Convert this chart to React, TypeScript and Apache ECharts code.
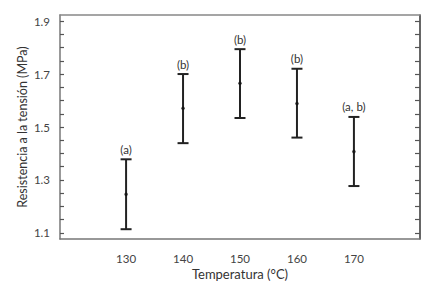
import React, { useEffect, useRef } from "react";
import * as echarts from "echarts";

const temperatures = [130, 140, 150, 160, 170];
const means = [1.246, 1.571, 1.665, 1.589, 1.407];
const lows = [1.114, 1.439, 1.534, 1.46, 1.277];
const highs = [1.378, 1.7, 1.794, 1.72, 1.538];
const groups = ["(a)", "(b)", "(b)", "(b)", "(a, b)"];
const xTickLabels = [130, 140, 150, 160, 170];
const yTickLabels = [1.1, 1.3, 1.5, 1.7, 1.9];
const yMinorTicks = [1.1, 1.15, 1.2, 1.25, 1.3, 1.35, 1.4, 1.45, 1.5, 1.55, 1.6, 1.65, 1.7, 1.75, 1.8, 1.85, 1.9];

const FONT = "Lato";

export default function App() {
  const ref = useRef<HTMLDivElement>(null);
  useEffect(() => {
    const chart = echarts.init(ref.current!, null, { renderer: "svg" });
    const errData = temperatures.map((t, i) => [t, lows[i], highs[i], groups[i]]);
    chart.setOption({
      animation: false,
      backgroundColor: "#fff",
      grid: { left: 60, right: 13, top: 15, bottom: 49 },
      xAxis: [
        {
          type: "value",
          min: 118.4,
          max: 181.6,
          position: "bottom",
          name: "Temperatura (°C)",
          nameLocation: "middle",
          nameGap: 28,
          nameMoveOverlap: false,
          nameTextStyle: { fontFamily: FONT, fontSize: 13, color: "#333" },
          axisLine: { show: true, lineStyle: { color: "#777", width: 1.5 } },
          axisTick: { show: false },
          splitLine: { show: false },
          axisLabel: {
            customValues: xTickLabels,
            fontFamily: FONT,
            fontSize: 11.5,
            color: "#444",
            margin: 13,
          },
        },
        {
          type: "value",
          min: 118.4,
          max: 181.6,
          position: "top",
          axisLine: { show: true, lineStyle: { color: "#888", width: 1.5 } },
          axisTick: { show: false },
          axisLabel: { show: false },
          splitLine: { show: false },
        },
      ],
      yAxis: [
        {
          type: "value",
          min: 1.077,
          max: 1.923,
          position: "left",
          name: "Resistencia a la tensión (MPa)",
          nameLocation: "middle",
          nameGap: 31,
          nameMoveOverlap: false,
          nameTextStyle: { fontFamily: FONT, fontSize: 12.5, color: "#333" },
          axisLine: { show: true, lineStyle: { color: "#777", width: 1.5 } },
          axisTick: {
            show: true,
            inside: true,
            length: 4,
            customValues: yMinorTicks,
            lineStyle: { color: "#555", width: 1.2 },
          },
          splitLine: { show: false },
          axisLabel: {
            customValues: yTickLabels,
            formatter: (v: number) => v.toFixed(1),
            fontFamily: FONT,
            fontSize: 11.5,
            color: "#444",
            margin: 10,
          },
        },
        {
          type: "value",
          min: 1.077,
          max: 1.923,
          position: "right",
          axisLine: { show: true, lineStyle: { color: "#333", width: 1.5 } },
          axisTick: {
            show: true,
            inside: true,
            length: 5,
            customValues: yMinorTicks,
            lineStyle: { color: "#555", width: 1.2 },
          },
          axisLabel: { show: false },
          splitLine: { show: false },
        },
      ],
      series: [
        {
          type: "custom",
          xAxisIndex: 0,
          yAxisIndex: 0,
          data: errData,
          renderItem: (params: any, api: any) => {
            const x = api.value(0);
            const lo = api.coord([x, api.value(1)]);
            const hi = api.coord([x, api.value(2)]);
            const half = 5.5;
            const style = { stroke: "#222", lineWidth: 2 };
            return {
              type: "group",
              children: [
                { type: "line", shape: { x1: hi[0], y1: hi[1], x2: lo[0], y2: lo[1] }, style },
                { type: "line", shape: { x1: hi[0] - half, y1: hi[1], x2: hi[0] + half, y2: hi[1] }, style },
                { type: "line", shape: { x1: lo[0] - half, y1: lo[1], x2: lo[0] + half, y2: lo[1] }, style },
                {
                  type: "text",
                  style: {
                    text: api.value(3),
                    x: hi[0],
                    y: hi[1] - 4,
                    align: "center",
                    verticalAlign: "bottom",
                    fontFamily: FONT,
                    fontSize: 11.5,
                    fill: "#333",
                  },
                },
              ],
            };
          },
        },
        {
          type: "scatter",
          data: temperatures.map((t, i) => [t, means[i]]),
          symbol: "circle",
          symbolSize: 3.5,
          itemStyle: { color: "#111" },
          z: 5,
        },
      ],
    });
    return () => chart.dispose();
  }, []);
  return <div ref={ref} style={{ width: 433, height: 288, position: "absolute", left: 0, top: 0 }} />;
}
